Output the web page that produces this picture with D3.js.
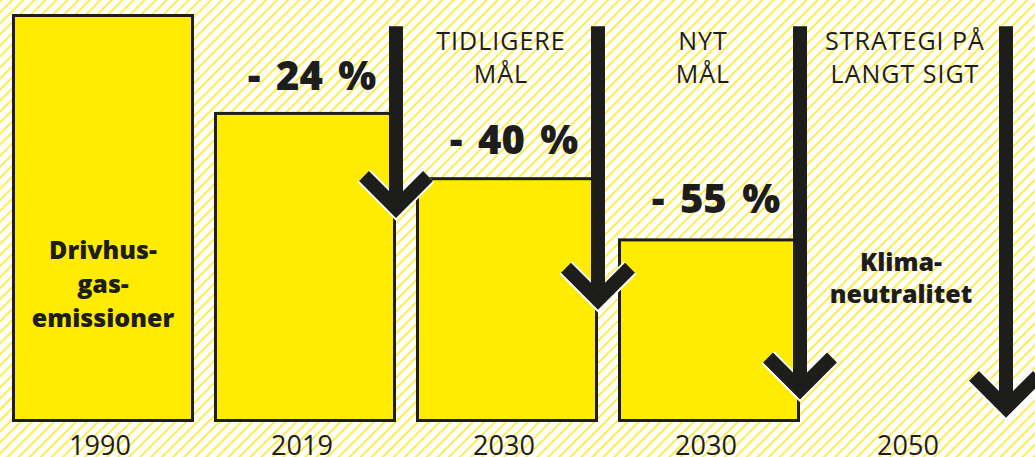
<!DOCTYPE html>
<html>
<head>
<meta charset="utf-8">
<script src="https://cdn.jsdelivr.net/npm/d3@7"></script>
<style>
  html, body { margin: 0; padding: 0; background: #fff; }
  svg { display: block; }
  text { font-family: "Open Sans", sans-serif; fill: #1d1d1b; }
</style>
</head>
<body>
<svg id="chart" width="1035" height="457"></svg>
<script>
// emissions as % of 1990 level
const years = ["1990", "2019", "2030", "2030", "2050"];
const emissions = [100, 76, 60, 45, null];
const cutLabels = [null, "- 24 %", "- 40 %", "- 55 %", null];
const headers = [null, null, ["TIDLIGERE", "MÅL"], ["NYT", "MÅL"], ["STRATEGI PÅ", "LANGT SIGT"]];
const innerLabels = [["Drivhus-", "gas-", "emissioner"], null, null, null, ["Klima-", "neutralitet"]];
// arrows sit on the right edge of bars 1..4, tip level in % units
const arrowCats = [1, 2, 3, 4];
const arrowEnds = [50, 27.5, 5.5, 1];

const W = 1035, H = 457;
const ink = "#1d1d1b", yellow = "#ffec00";

const svg = d3.select("#chart");

const x = d3.scaleBand()
    .domain(d3.range(years.length))
    .range([12, 1002])
    .paddingInner(0.099)
    .paddingOuter(0);

const y = d3.scaleLinear()
    .domain([0, 100])
    .range([422, 14]);

// striped background
const defs = svg.append("defs");
const pat = defs.append("pattern")
    .attr("id", "stripes")
    .attr("patternUnits", "userSpaceOnUse")
    .attr("width", 7.8)
    .attr("height", 7.8)
    .attr("patternTransform", "rotate(45)");
pat.append("rect").attr("width", 7.8).attr("height", 7.8).attr("fill", "#fff");
pat.append("line")
    .attr("x1", 1).attr("x2", 1)
    .attr("y1", 0).attr("y2", 7.8)
    .attr("stroke", "#ffe500")
    .attr("stroke-width", 1.4);

svg.append("rect")
    .attr("width", W).attr("height", H)
    .attr("fill", "url(#stripes)");

// bars
const barData = emissions.map((v, i) => ({ i, v })).filter(d => d.v != null);
svg.append("g")
    .selectAll("rect")
    .data(barData)
    .join("rect")
    .attr("x", d => x(d.i) + 1.5)
    .attr("y", d => y(d.v) + 1.5)
    .attr("width", x.bandwidth() - 3)
    .attr("height", d => y(0) - y(d.v) - 3)
    .attr("fill", yellow)
    .attr("stroke", ink)
    .attr("stroke-width", 3);

// arrows
const arm = 32, shaftW = 14;
const arrowX = c => x(c) + x.bandwidth() + (c === 4 ? 4 : 0);
const arrows = svg.append("g")
    .selectAll("g")
    .data(arrowCats.map((c, k) => ({ c, end: arrowEnds[k] })))
    .join("g")
    .attr("transform", d => `translate(${arrowX(d.c)},0)`);

const chevron = d => {
    const t = y(d.end) - 10;
    return `M${-arm},${t - arm}L0,${t}L${arm},${t - arm}`;
};
arrows.append("path")
    .attr("d", chevron)
    .attr("fill", "none")
    .attr("stroke", "#fff")
    .attr("stroke-width", shaftW + 4)
    .attr("stroke-miterlimit", 10);
arrows.append("path")
    .attr("d", chevron)
    .attr("fill", "none")
    .attr("stroke", ink)
    .attr("stroke-width", shaftW)
    .attr("stroke-miterlimit", 10);
arrows.append("line")
    .attr("x1", 0).attr("x2", 0)
    .attr("y1", y(97))
    .attr("y2", d => y(d.end) - 20)
    .attr("stroke", ink)
    .attr("stroke-width", shaftW);

const cx = i => x(i) + x.bandwidth() / 2;

// year labels
svg.append("g")
    .selectAll("text")
    .data(years)
    .join("text")
    .attr("x", (d, i) => cx(i) - 3)
    .attr("y", 455)
    .attr("text-anchor", "middle")
    .attr("font-size", 27)
    .text(d => d);

// reduction labels, just above each bar
svg.append("g")
    .selectAll("text")
    .data(cutLabels.map((t, i) => ({ t, i })).filter(d => d.t))
    .join("text")
    .attr("x", d => cx(d.i) + 7)
    .attr("y", d => y(emissions[d.i]) - 22 - (d.i - 1) * 1.5)
    .attr("text-anchor", "middle")
    .attr("font-size", 40)
    .attr("font-weight", 800)
    .attr("word-spacing", 5)
    .text(d => d.t);

// column headers
headers.forEach((lines, i) => {
    if (!lines) return;
    svg.append("text")
        .attr("text-anchor", "middle")
        .attr("font-size", 25)
        .attr("letter-spacing", 1)
        .selectAll("tspan")
        .data(lines)
        .join("tspan")
        .attr("x", cx(i) - 6)
        .attr("y", (d, k) => 50 + k * 33)
        .text(d => d);
});

// labels inside bars / last column
innerLabels.forEach((lines, i) => {
    if (!lines) return;
    const top = i === 0 ? 259 : 271;
    svg.append("text")
        .attr("text-anchor", "middle")
        .attr("font-size", 25)
        .attr("font-weight", 800)
        .selectAll("tspan")
        .data(lines)
        .join("tspan")
        .attr("x", i === 0 ? cx(i) : cx(i) - 10)
        .attr("y", (d, k) => top + k * (i === 0 ? 34 : 32))
        .text(d => d);
});
</script>
</body>
</html>
